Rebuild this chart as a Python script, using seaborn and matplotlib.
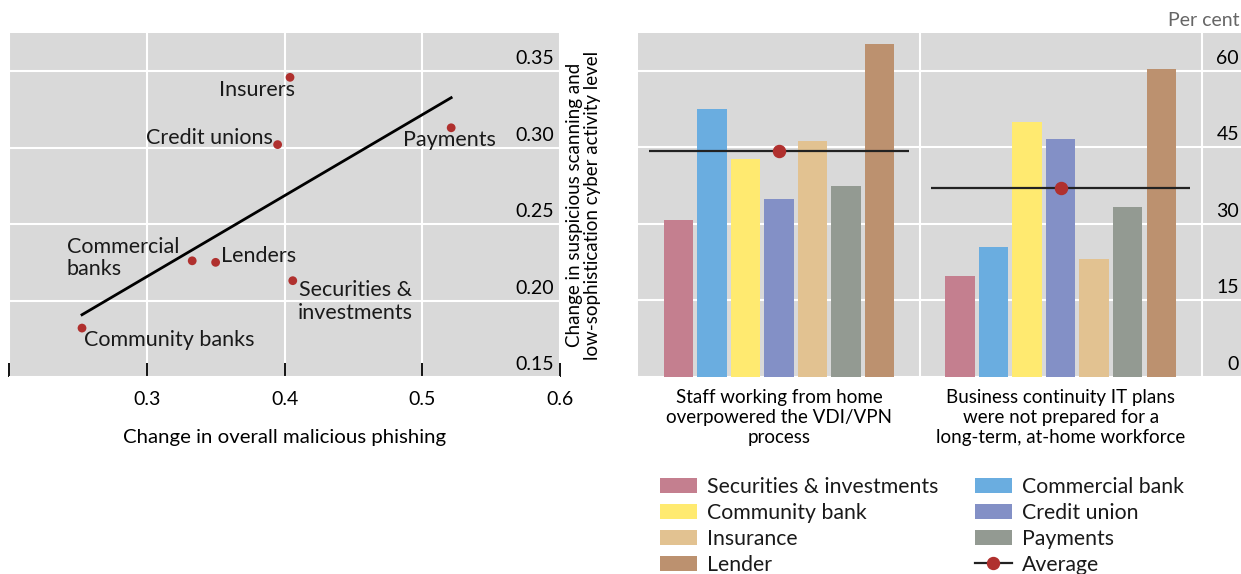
import matplotlib.pyplot as plt
import numpy as np
import pandas as pd
import seaborn as sns
from matplotlib.lines import Line2D
from matplotlib.patches import Patch
from matplotlib.transforms import ScaledTranslation

# Left panel: change in phishing vs change in scanning, by sector
sectors = [
    "Insurers",
    "Credit unions",
    "Payments",
    "Commercial\nbanks",
    "Lenders",
    "Securities &\ninvestments",
    "Community banks",
]
phishing = [0.404, 0.395, 0.521, 0.333, 0.350, 0.406, 0.253]
scanning = [0.346, 0.302, 0.313, 0.226, 0.225, 0.213, 0.182]
x_ticks = [0.2, 0.3, 0.4, 0.5, 0.6]
x_tick_labels = ["", "0.3", "0.4", "0.5", "0.6"]
y_ticks = [0.15, 0.20, 0.25, 0.30, 0.35]
y_tick_labels = ["0.15", "0.20", "0.25", "0.30", "0.35"]

# Right panel: per cent of respondents, by problem and institution type
problems = [
    "Staff working from home\noverpowered the VDI/VPN\nprocess",
    "Business continuity IT plans\nwere not prepared for a\nlong-term, at-home workforce",
]
institutions = [
    "Securities & investments",
    "Commercial bank",
    "Community bank",
    "Credit union",
    "Insurance",
    "Payments",
    "Lender",
]
staff_vpn = [30.8, 52.6, 42.7, 34.9, 46.3, 37.5, 65.2]
it_plans = [19.8, 25.5, 49.9, 46.7, 23.1, 33.4, 60.3]
bar_ticks = [0, 15, 30, 45, 60]

colors = ["#c47f8f", "#6aade0", "#ffea70", "#8390c6", "#e2c291", "#939a92", "#bc916f"]
dot_red = "#b0302e"
panel_bg = "#d9d9d9"

# label placement: (ha, offset x px, offset y px)
label_pos = {
    "Insurers": ("right", 5, -13),
    "Credit unions": ("right", -5, 7),
    "Payments": ("center", -2, -12),
    "Commercial\nbanks": ("right", -13, 3),
    "Lenders": ("left", 5, 6),
    "Securities &\ninvestments": ("left", 5, -21),
    "Community banks": ("left", 2, -12),
}


def lift_ytick_labels(ax, fig, px):
    shift = ScaledTranslation(0, px / fig.dpi, fig.dpi_scale_trans)
    for t in ax.get_yticklabels():
        t.set_horizontalalignment("right")
        t.set_verticalalignment("bottom")
        t.set_transform(t.get_transform() + shift)


def main():
    plt.rcParams["font.family"] = ["Lato", "DejaVu Sans"]
    plt.rcParams["font.size"] = 14
    plt.rcParams["text.color"] = "#1a1a1a"

    fig = plt.figure(figsize=(12.41, 5.74), dpi=100)
    W, H = 1241, 574
    ax1 = fig.add_axes([9 / W, 1 - 377 / H, 551 / W, 344 / H])
    ax2 = fig.add_axes([638 / W, 1 - 377 / H, 603 / W, 344 / H])

    draw_scatter(ax1, fig)
    draw_bars(ax2, fig)

    fig.text(1239 / W, 1 - 20 / H, "Per cent", ha="right", va="center",
             color="#666666", fontsize=14)
    fig.savefig("out.png", dpi=100)


def draw_scatter(ax, fig):
    ax.set_facecolor(panel_bg)
    for s in ax.spines.values():
        s.set_visible(False)
    sns.regplot(
        x=phishing, y=scanning, ci=None, scatter=False, truncate=True,
        line_kws=dict(color="black", lw=2), ax=ax,
    )
    sns.scatterplot(x=phishing, y=scanning, color=dot_red, s=40, edgecolor="none", zorder=4, ax=ax)
    for name, xv, yv in zip(sectors, phishing, scanning):
        ha, dx, dy = label_pos[name]
        ax.annotate(
            name, (xv, yv), xytext=(dx, dy), textcoords="offset pixels",
            ha=ha, va="center", fontsize=15.5, linespacing=1.15,
            multialignment="center" if ha == "left" and "\n" in name else "left",
        )
    ax.set_xlim(0.2, 0.6)
    ax.set_ylim(0.15, 0.375)
    ax.set_xticks(x_ticks, x_tick_labels)
    ax.set_yticks(y_ticks, y_tick_labels)
    ax.grid(color="white", lw=1.5)
    ax.set_axisbelow(True)
    ax.tick_params(axis="x", direction="in", length=10, width=1.3, color="black", pad=10)
    ax.yaxis.tick_right()
    ax.tick_params(axis="y", length=0, pad=-4.3, labelright=True, labelleft=False)
    lift_ytick_labels(ax, fig, 4)
    ax.set_xlabel("Change in overall malicious phishing", labelpad=15, fontsize=14.7)
    ax.yaxis.set_label_position("right")
    ax.set_ylabel(
        "Change in suspicious scanning and\nlow-sophistication cyber activity level",
        labelpad=4, linespacing=1.1, fontsize=13.5,
    )


def draw_bars(ax, fig):
    df = pd.DataFrame(
        {
            "problem": np.repeat(problems, len(institutions)),
            "institution": institutions * len(problems),
            "value": staff_vpn + it_plans,
        }
    )
    ax.set_facecolor(panel_bg)
    for s in ax.spines.values():
        s.set_visible(False)
    sns.barplot(
        data=df, x="problem", y="value", hue="institution", hue_order=institutions,
        palette=colors, width=0.833, gap=0.12, linewidth=0, saturation=1,
        legend=False, ax=ax,
    )
    avg = df.groupby("problem", sort=False)["value"].mean()
    pos = np.arange(len(problems))
    ax.hlines(avg.values, pos - 0.46, pos + 0.46, color="#222222", lw=1.6, zorder=5)
    ax.scatter(pos, avg.values, s=75, color=dot_red, zorder=6)

    ax.set_xlim(-0.5, 1.64)
    ax.set_ylim(0, 67.4)
    ax.set_yticks(bar_ticks)
    ax.set_xticks([0.5, 1.5], minor=True)
    ax.grid(axis="y", color="white", lw=1.5)
    ax.grid(axis="x", which="minor", color="white", lw=1.5)
    ax.grid(axis="x", which="major", visible=False)
    ax.set_axisbelow(True)
    ax.set_xlabel("")
    ax.set_ylabel("")
    ax.tick_params(axis="x", which="both", length=0, pad=8.5, labelsize=13.5)
    ax.yaxis.tick_right()
    ax.tick_params(axis="y", length=0, pad=-1.5, labelright=True, labelleft=False)
    lift_ytick_labels(ax, fig, 4)
    for t in ax.get_xticklabels():
        t.set_multialignment("center")
        t.set_linespacing(1.22)

    handles = [Patch(color=c, linewidth=0) for c in colors]
    order = [0, 2, 4, 6, 1, 3, 5]
    leg_handles = [handles[i] for i in order] + [
        Line2D([], [], color="#222222", lw=1.6, marker="o", markersize=8.6,
               markerfacecolor=dot_red, markeredgecolor=dot_red)
    ]
    leg_labels = [institutions[i] for i in order] + ["Average"]
    fig.legend(
        leg_handles, leg_labels, ncol=2, frameon=False, loc="upper left",
        bbox_to_anchor=(660 / 1241, 1 - 477 / 574), fontsize=15.3,
        handlelength=1.75, handleheight=0.7, columnspacing=1.7, labelspacing=0.28,
        handletextpad=0.47, borderaxespad=0, borderpad=0,
    )


if __name__ == "__main__":
    main()
